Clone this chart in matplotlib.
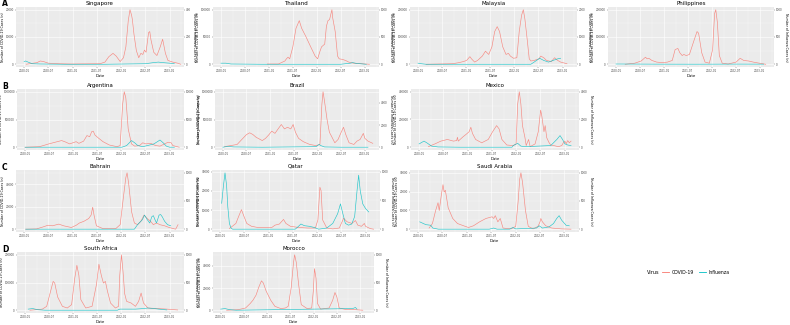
import numpy as np
import matplotlib
matplotlib.use("Agg")
import matplotlib.pyplot as plt
import matplotlib.dates as mdates
from matplotlib.lines import Line2D
from matplotlib.ticker import MaxNLocator, AutoMinorLocator, StrMethodFormatter

plt.rcParams['font.family'] = ['DejaVu Sans']

COVID_COLOR = "#F8766D"
FLU_COLOR = "#00BFC4"
BASE = np.datetime64("2020-01-01")

# ---------------- data (months since 2020-01, weekly case counts) ----------------
# Singapore
sg_covid_m = [0.5, 3.2, 4.0, 4.8, 6.0, 8.4, 11.6, 18.8, 20.0, 21.0, 22.0, 22.8, 23.8, 24.6, 25.2, 25.8, 26.2, 26.6, 26.8, 27.2, 27.8, 28.4, 28.9, 29.4, 29.8, 30.2, 30.8, 31.1, 31.4, 32.1, 32.9, 33.7, 34.3, 35.0, 35.6, 36.8, 38.0, 38.8]
sg_covid_v = [0, 600, 1200, 1000, 400, 200, 100, 200, 800, 2800, 4000, 3000, 1000, 2400, 6400, 16000, 20000, 18000, 16400, 11000, 5000, 2400, 4000, 3600, 5200, 4400, 11600, 12000, 9000, 4400, 3200, 6400, 9200, 4000, 1400, 800, 400, 0]
sg_flu_m = [0.0, 0.4, 1.0, 2.0, 4.0, 10.0, 20.0, 30.0, 32.0, 33.2, 34.4, 36.0, 37.2]
sg_flu_v = [20, 24, 16, 4, 2, 0, 0, 4, 12, 16, 12, 8, 4]

# Thailand
th_covid_m = [11.6, 14.4, 16.0, 16.4, 16.8, 17.2, 18.0, 18.8, 19.6, 20.2, 21.2, 22.4, 23.6, 24.2, 24.8, 25.2, 26.0, 26.4, 26.8, 27.2, 27.8, 28.0, 28.6, 29.2, 29.6, 30.4, 31.2, 32.0, 33.2, 37.2]
th_covid_v = [500, 500, 6000, 10000, 13000, 10000, 32000, 66000, 80000, 66000, 52000, 33000, 15000, 10000, 24000, 32000, 37000, 70000, 80000, 82000, 100000, 85000, 60000, 15000, 10000, 9000, 7000, 4000, 2000, 0]
th_flu_m = [0.0, 1.2, 2.5, 10.0, 30.0, 32.4, 33.0, 34.0, 35.6, 36.4]
th_flu_v = [20, 20, 5, 0, 0, 20, 30, 15, 5, 0]

# Malaysia
my_covid_m = [2.0, 8.6, 10.2, 11.3, 12.1, 12.9, 13.3, 14.1, 14.8, 16.0, 16.8, 17.6, 18.4, 19.1, 19.7, 20.3, 21.1, 21.9, 22.5, 23.0, 23.8, 24.6, 25.2, 25.8, 26.2, 26.6, 27.2, 27.7, 28.1, 28.9, 30.1, 30.6, 31.3, 32.0, 33.2, 34.0, 34.8, 35.5, 37.1]
my_covid_v = [0, 2000, 6000, 10000, 14000, 28000, 20000, 8000, 14000, 30000, 48000, 36000, 64000, 120000, 138000, 120000, 64000, 36000, 40000, 30000, 22000, 24000, 120000, 180000, 200000, 166000, 88000, 20000, 12000, 14000, 20000, 30000, 24000, 14000, 10000, 24000, 14000, 8000, 2000]
my_flu_m = [0.0, 0.8, 2.0, 28.1, 28.9, 30.3, 31.3, 32.5, 33.6, 34.8, 35.5]
my_flu_v = [40, 20, 0, 0, 80, 220, 140, 80, 140, 200, 220]

# Philippines
ph_covid_m = [2.3, 4.7, 6.3, 7.4, 7.8, 8.2, 9.0, 10.2, 11.7, 12.9, 14.1, 14.8, 15.5, 16.0, 16.6, 17.0, 17.6, 18.4, 19.5, 20.3, 20.7, 21.5, 22.3, 23.4, 24.2, 24.7, 25.0, 25.4, 25.9, 26.6, 28.1, 30.1, 31.1, 32.0, 33.2, 34.4, 35.9, 37.5]
ph_covid_v = [0, 4000, 12000, 26000, 20000, 22000, 14000, 8000, 6000, 8000, 14000, 54000, 58000, 42000, 32000, 36000, 32000, 36000, 86000, 120000, 114000, 42000, 8000, 4000, 54000, 186000, 200000, 154000, 32000, 4000, 1000, 8000, 22000, 14000, 12000, 8000, 4000, 0]
ph_flu_m = [0.0, 10.0, 20.0, 30.0, 37.0]
ph_flu_v = [5, 2, 1, 3, 2]

# Argentina
ar_covid_m = [0.0, 3.6, 5.9, 7.5, 9.1, 9.9, 11.1, 11.9, 12.7, 13.4, 14.6, 15.4, 16.1, 16.6, 17.0, 17.4, 18.2, 19.4, 21.0, 22.9, 23.7, 24.3, 24.7, 25.1, 25.7, 26.5, 27.3, 28.5, 29.3, 30.1, 31.3, 32.5, 33.6, 35.6, 36.4, 36.8, 38.4]
ar_covid_v = [0, 10000, 60000, 90000, 120000, 100000, 60000, 80000, 100000, 70000, 110000, 210000, 190000, 280000, 290000, 220000, 170000, 100000, 40000, 10000, 30000, 780000, 1000000, 890000, 330000, 60000, 20000, 30000, 80000, 60000, 70000, 30000, 20000, 90000, 80000, 30000, 0]
ar_flu_m = [0.0, 24.1, 25.3, 26.5, 27.3, 28.1, 29.3, 30.5, 32.1, 33.6, 34.4, 35.2, 36.0, 37.2]
ar_flu_v = [0, 0, 300, 1200, 800, 300, 100, 300, 600, 1300, 800, 200, 0, 0]

# Brazil
br_covid_m = [0.4, 2.0, 3.6, 4.8, 6.0, 6.8, 7.6, 8.4, 9.2, 10.0, 10.8, 11.6, 12.4, 13.2, 14.0, 14.8, 15.6, 16.4, 17.2, 17.8, 18.4, 19.2, 20.4, 22.0, 23.6, 24.6, 25.1, 25.4, 25.8, 26.4, 27.0, 27.6, 28.4, 29.2, 30.0, 30.6, 31.2, 32.0, 33.2, 34.0, 34.8, 35.6, 36.0, 36.8, 38.0]
br_covid_v = [10000, 30000, 50000, 140000, 230000, 260000, 230000, 180000, 150000, 120000, 160000, 220000, 290000, 250000, 330000, 410000, 330000, 360000, 330000, 410000, 270000, 160000, 100000, 50000, 30000, 50000, 770000, 1000000, 820000, 500000, 270000, 190000, 80000, 140000, 270000, 360000, 220000, 80000, 50000, 110000, 140000, 250000, 160000, 110000, 70000]
br_flu_m = [0.0, 1.2, 2.8, 10.0, 23.6, 24.4, 24.8, 25.8, 30.0, 36.8]
br_flu_v = [0, 75, 25, 0, 50, 250, 150, 25, 0, 0]

# Mexico
mx_covid_m = [2.3, 3.9, 5.4, 7.0, 8.5, 9.3, 9.5, 9.7, 10.9, 11.6, 12.4, 12.8, 13.2, 14.0, 15.5, 17.1, 18.2, 19.2, 19.8, 20.5, 21.7, 23.3, 24.0, 24.4, 24.8, 25.2, 25.6, 26.2, 26.5, 27.1, 27.5, 28.7, 29.5, 30.1, 30.4, 30.9, 31.2, 31.6, 32.2, 32.6, 33.3, 34.5, 35.3, 35.7, 36.1, 36.4, 36.8, 37.2, 37.6]
mx_covid_v = [4000, 24000, 44000, 56000, 44000, 48000, 72000, 44000, 76000, 92000, 112000, 144000, 100000, 56000, 32000, 56000, 112000, 156000, 132000, 56000, 16000, 12000, 24000, 312000, 400000, 312000, 156000, 68000, 12000, 56000, 4000, 24000, 112000, 268000, 224000, 112000, 156000, 68000, 32000, 16000, 12000, 4000, 12000, 32000, 44000, 24000, 48000, 32000, 44000]
mx_flu_m = [0.0, 1.2, 1.9, 3.1, 4.7, 10.0, 23.0, 23.3, 24.4, 25.2, 26.4, 32.6, 34.1, 34.9, 35.5, 36.1, 36.8, 37.6]
mx_flu_v = [240, 440, 320, 80, 20, 0, 0, 120, 280, 80, 40, 120, 560, 840, 560, 240, 160, 120]

# Bahrain
bh_covid_m = [0.4, 3.1, 4.7, 5.9, 7.0, 8.6, 9.8, 11.7, 12.9, 13.7, 14.8, 16.0, 16.6, 17.0, 17.3, 17.9, 19.5, 22.7, 23.8, 24.6, 25.2, 25.5, 25.9, 26.6, 27.3, 28.1, 28.9, 29.7, 30.5, 31.3, 32.0, 32.8, 33.6, 34.8, 35.9, 37.5, 38.1]
bh_covid_v = [0, 250, 2000, 3500, 3000, 4500, 3000, 1500, 3500, 5500, 7000, 9500, 12500, 19500, 12500, 3000, 500, 500, 4000, 29000, 46000, 50000, 40500, 15500, 5500, 4000, 7000, 12500, 9500, 7000, 4000, 5500, 4000, 3000, 1500, 0, 4000]
bh_flu_m = [0.4, 27.3, 28.1, 29.3, 29.8, 30.5, 31.1, 31.6, 32.0, 32.4, 32.8, 33.4, 33.8, 34.2, 34.8, 35.5, 36.3]
bh_flu_v = [0, 0, 80, 170, 250, 170, 110, 220, 240, 170, 110, 250, 260, 220, 140, 80, 60]

# Qatar
qa_covid_m = [2.3, 3.9, 4.7, 5.3, 5.8, 6.6, 7.8, 9.3, 10.9, 12.8, 13.6, 14.7, 15.7, 16.3, 17.4, 19.4, 21.7, 23.6, 24.2, 24.7, 25.0, 25.4, 26.4, 27.9, 29.5, 30.6, 31.4, 32.6, 33.5, 34.1, 35.0, 35.7, 36.0, 37.2, 38.0]
qa_covid_v = [300, 3000, 7200, 10200, 7200, 3000, 1500, 900, 900, 900, 2100, 2700, 5100, 3000, 1500, 900, 600, 600, 4800, 21900, 20100, 4800, 600, 150, 600, 5700, 3900, 3000, 4500, 2100, 1500, 3000, 1500, 300, 0]
qa_flu_m = [0.4, 0.8, 1.2, 1.6, 1.9, 2.3, 2.7, 3.1, 18.6, 19.4, 20.0, 20.9, 22.1, 23.3, 24.4, 26.4, 27.9, 29.1, 29.8, 30.4, 31.0, 31.8, 32.6, 33.3, 33.9, 34.3, 34.7, 35.3, 36.0, 36.8]
qa_flu_v = [450, 730, 980, 760, 390, 100, 20, 0, 0, 50, 90, 60, 50, 30, 0, 20, 100, 270, 440, 270, 100, 70, 90, 220, 670, 940, 670, 440, 360, 300]

# Saudi Arabia
sa_covid_m = [2.7, 3.5, 4.3, 4.9, 5.2, 5.7, 6.1, 6.4, 6.7, 7.4, 8.5, 9.7, 11.2, 12.4, 13.6, 15.1, 16.7, 18.2, 18.6, 19.0, 19.6, 20.2, 20.9, 22.9, 24.0, 24.6, 25.0, 25.3, 25.7, 26.4, 27.1, 28.3, 29.5, 30.0, 30.2, 30.6, 31.4, 32.9, 35.3, 37.6]
sa_covid_v = [600, 3000, 9900, 14100, 9900, 18300, 23700, 19800, 20700, 11400, 5700, 3000, 1800, 900, 1800, 3900, 5700, 6600, 5700, 7200, 3900, 5700, 600, 150, 1500, 14700, 26700, 30000, 24900, 9900, 1500, 150, 1500, 3900, 5700, 3900, 1800, 600, 150, 0]
sa_flu_m = [0.4, 1.9, 3.1, 3.6, 5.0, 17.5, 18.6, 19.4, 22.5, 23.3, 24.0, 29.1, 29.8, 30.6, 32.2, 33.3, 34.1, 34.7, 35.3, 36.4, 37.2]
sa_flu_v = [130, 80, 70, 20, 0, 0, 20, 0, 0, 30, 5, 20, 60, 20, 40, 100, 190, 240, 160, 70, 60]

# South Africa
za_covid_m = [1.2, 4.3, 5.4, 6.2, 7.0, 7.4, 8.1, 9.3, 10.5, 11.6, 12.4, 12.9, 13.4, 13.9, 15.1, 16.7, 17.8, 18.4, 19.0, 19.5, 20.0, 20.5, 21.3, 22.5, 23.3, 23.6, 24.0, 24.4, 24.8, 25.3, 26.4, 27.5, 28.3, 28.9, 29.5, 30.6, 33.0, 35.3, 38.0]
za_covid_v = [0, 4000, 14000, 60000, 104000, 98000, 48000, 14000, 8000, 20000, 116000, 162000, 126000, 38000, 8000, 14000, 94000, 166000, 126000, 98000, 104000, 70000, 26000, 8000, 14000, 126000, 200000, 138000, 60000, 32000, 26000, 14000, 32000, 62000, 26000, 8000, 6000, 4000, 1000]
za_flu_m = [0.8, 1.9, 3.1, 5.0, 23.0, 23.6, 27.5, 29.5, 30.6, 32.2, 33.3, 35.3]
za_flu_v = [20, 30, 10, 0, 0, 20, 20, 30, 40, 30, 20, 5]

# Morocco
ma_covid_m = [1.5, 4.5, 6.4, 7.6, 8.3, 9.1, 9.8, 10.5, 11.0, 11.7, 12.9, 14.0, 15.5, 16.7, 17.4, 18.2, 18.8, 19.1, 19.5, 20.1, 20.8, 22.3, 23.5, 23.9, 24.2, 24.6, 25.0, 25.8, 28.0, 28.9, 29.5, 30.0, 30.6, 32.5, 34.8, 36.7]
ma_covid_v = [0, 500, 2000, 6000, 9000, 13500, 20500, 26500, 24500, 17500, 9000, 3500, 1500, 2000, 3500, 20500, 43000, 50000, 43000, 23500, 5000, 1500, 2000, 17500, 37500, 29000, 6000, 1000, 2000, 9000, 16000, 12000, 2000, 500, 500, 0]
ma_flu_m = [0.0, 1.1, 2.3, 4.0, 34.1, 34.8, 35.2]
ma_flu_v = [20, 30, 10, 0, 30, 50, 20]

# name, covid m, covid v, flu m, flu v, flu units per covid unit on the secondary axis
panels = [
    ("Singapore",    sg_covid_m, sg_covid_v, sg_flu_m, sg_flu_v, 400 / 20000),
    ("Thailand",     th_covid_m, th_covid_v, th_flu_m, th_flu_v, 1000 / 100000),
    ("Malaysia",     my_covid_m, my_covid_v, my_flu_m, my_flu_v, 2000 / 200000),
    ("Philippines",  ph_covid_m, ph_covid_v, ph_flu_m, ph_flu_v, 1000 / 200000),
    ("Argentina",    ar_covid_m, ar_covid_v, ar_flu_m, ar_flu_v, 10000 / 1000000),
    ("Brazil",       br_covid_m, br_covid_v, br_flu_m, br_flu_v, 5000 / 1000000),
    ("Mexico",       mx_covid_m, mx_covid_v, mx_flu_m, mx_flu_v, 4000 / 400000),
    ("Bahrain",      bh_covid_m, bh_covid_v, bh_flu_m, bh_flu_v, 1000 / 50000),
    ("Qatar",        qa_covid_m, qa_covid_v, qa_flu_m, qa_flu_v, 1000 / 30000),
    ("Saudi Arabia", sa_covid_m, sa_covid_v, sa_flu_m, sa_flu_v, 1000 / 30000),
    ("South Africa", za_covid_m, za_covid_v, za_flu_m, za_flu_v, 1000 / 200000),
    ("Morocco",      ma_covid_m, ma_covid_v, ma_flu_m, ma_flu_v, 1000 / 50000),
]

# panel boxes in pixels: left, top, right, bottom
boxes = [
    (16, 7, 184, 67), (213, 7, 379, 67), (410, 7, 577, 67), (608, 7, 774, 67),
    (17, 89, 184, 150), (215, 89, 379, 150), (411, 89, 579, 150),
    (16, 170, 184, 232), (212, 170, 380, 232), (410, 170, 579, 232),
    (17, 252, 184, 313), (213, 252, 374, 313),
]
letters = [("A", 4), ("B", 86), ("C", 167), ("D", 249)]

W, H = 790, 325
fig = plt.figure(figsize=(W / 100, H / 100), dpi=100)


def to_dates(m):
    return BASE + np.round(np.asarray(m) * 30.44).astype("timedelta64[D]")


ticks = [np.datetime64(d) for d in ["2020-01-01", "2020-07-01", "2021-01-01", "2021-07-01",
                                    "2022-01-01", "2022-07-01", "2023-01-01"]]
minor_ticks = [np.datetime64(d) for d in ["2020-04-01", "2020-10-01", "2021-04-01", "2021-10-01",
                                          "2022-04-01", "2022-10-01", "2023-04-01"]]
xlo, xhi = np.datetime64("2019-11-01"), np.datetime64("2023-04-20")
TICK_KW = dict(labelsize=2.0, length=1, width=0.3, pad=0.5, colors="#4D4D4D")

for (name, cm, cv, fm, fv, ratio), (l, t, r, b) in zip(panels, boxes):
    ax = fig.add_axes([l / W, 1 - b / H, (r - l) / W, (b - t) / H])
    ax.set_facecolor("#EBEBEB")
    for s in ax.spines.values():
        s.set_visible(False)
    top = max(max(cv), max(fv) / ratio)
    ylim = (-0.05 * top, 1.05 * top)
    ax.plot(to_dates(cm), cv, color=COVID_COLOR, lw=0.45, alpha=0.85, zorder=3)
    ax.set_ylim(*ylim)
    ax.set_xlim(xlo, xhi)
    ax.set_xticks(ticks)
    ax.set_xticks(minor_ticks, minor=True)
    ax.xaxis.set_major_formatter(mdates.DateFormatter("%Y-%m"))
    ax.yaxis.set_major_locator(MaxNLocator(nbins=4, steps=[1, 2, 2.5, 5, 10]))
    ax.yaxis.set_minor_locator(AutoMinorLocator(2))
    ax.yaxis.set_major_formatter(StrMethodFormatter("{x:.0f}"))
    ax.grid(True, which="major", color="white", lw=0.4, zorder=0)
    ax.grid(True, which="minor", color="white", lw=0.2, zorder=0)
    ax.set_axisbelow(True)
    ax.tick_params(which="minor", length=0)
    ax.tick_params(**TICK_KW)
    ax.set_xlabel("Date", fontsize=2.8, labelpad=0.8)
    ax.set_ylabel("Number of COVID-19 Cases (n)", fontsize=2.3, labelpad=0.6)
    ax.set_title(name, fontsize=4, pad=1.5)

    ax2 = ax.twinx()
    for s in ax2.spines.values():
        s.set_visible(False)
    ax2.plot(to_dates(fm), fv, color=FLU_COLOR, lw=0.45, alpha=0.85, zorder=3)
    ax2.set_ylim(ylim[0] * ratio, ylim[1] * ratio)
    ax2.yaxis.set_major_locator(MaxNLocator(nbins=4, steps=[1, 2, 2.5, 5, 10]))
    ax2.yaxis.set_major_formatter(StrMethodFormatter("{x:.0f}"))
    ax2.tick_params(**TICK_KW)
    ax2.set_ylabel("Number of Influenza Cases (n)", fontsize=2.3, labelpad=0.6,
                   rotation=270, va="bottom")

for letter, y in letters:
    fig.text(2 / W, 1 - y / H, letter, fontsize=5.5, fontweight="bold", va="center", ha="left")

# legend
fig.text(647 / W, 1 - 272 / H, "Virus", fontsize=3.6, va="center", ha="left")
handles = [Line2D([], [], color=COVID_COLOR, lw=0.6), Line2D([], [], color=FLU_COLOR, lw=0.6)]
leg = fig.legend(handles, ["COVID-19", "Influenza"], loc="center left",
                 bbox_to_anchor=(658 / W, 1 - 272 / H), ncol=2, fontsize=3.3,
                 frameon=False, handlelength=1.6, columnspacing=1.0, handletextpad=0.5)

fig.savefig("out.png", dpi=100)
